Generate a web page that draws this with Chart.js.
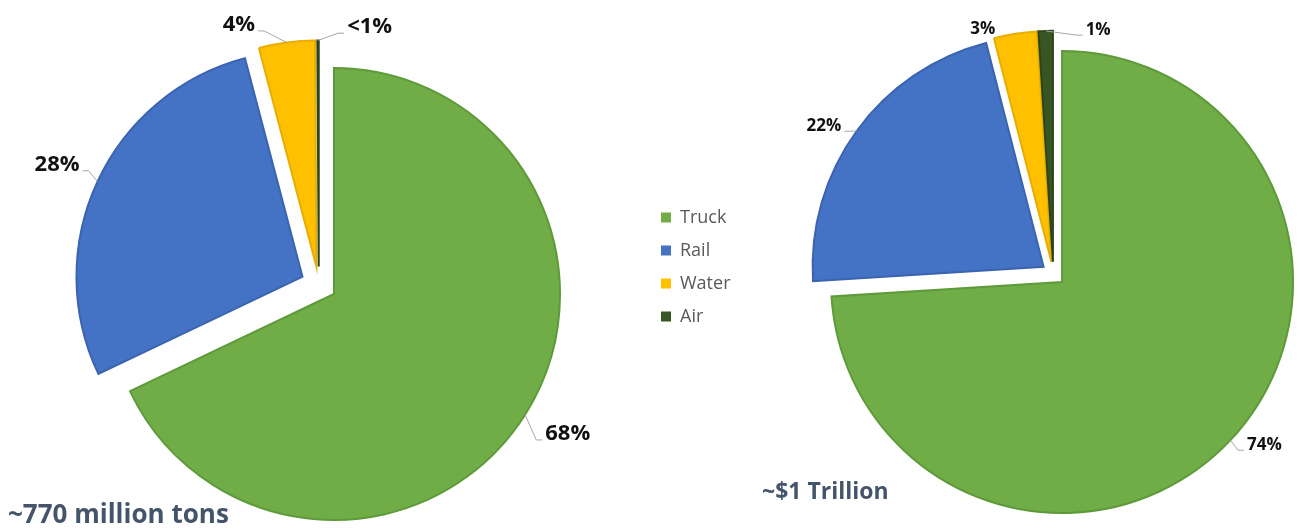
<!DOCTYPE html>
<html lang="en">
<head>
    <meta charset="UTF-8">
    <title>Freight by mode</title>
    <style>
        body { margin: 0; background: #fff; }
        .wrap { position: relative; width: 1300px; height: 529px; overflow: hidden; }
        canvas { position: absolute; }
        #tonsChart { left: 0; top: 0; }
        #valueChart { left: 640px; top: 0; }
        #legendChart { left: 646px; top: 167px; }
    </style>
</head>
<body>
    <div class="wrap">
        <canvas id="tonsChart" width="640" height="529"></canvas>
        <canvas id="valueChart" width="660" height="529"></canvas>
        <canvas id="legendChart" width="260" height="200"></canvas>
    </div>

    <script src="https://cdn.jsdelivr.net/npm/chart.js"></script>

    <script>
        // data
        const modes = ['Truck', 'Rail', 'Water', 'Air'];
        const tonsShare = [68, 28, 4, 0.1];
        const tonsLabels = ['68%', '28%', '4%', '<1%'];
        const valueShare = [74, 22, 3, 1];
        const valueLabels = ['74%', '22%', '3%', '1%'];
        const tonsCaption = '~770 million tons';
        const valueCaption = '~$1 Trillion';

        const modeColors = ['#70AD47', '#4472C4', '#FFC000', '#375623'];
        const modeBorders = ['#5E9A3A', '#3A63B0', '#E8AD00', '#2B4519'];

        Chart.defaults.font.family = "'Open Sans', sans-serif";

        // pull every slice out from the centre (like Excel "point explosion")
        function explodeSlices(distance) {
            return {
                id: 'explodeSlices',
                afterDatasetUpdate(chart, args) {
                    args.meta.data.forEach(arc => {
                        const mid = (arc.startAngle + arc.endAngle) / 2;
                        arc.x += Math.cos(mid) * distance;
                        arc.y += Math.sin(mid) * distance;
                    });
                }
            };
        }

        // percentage labels outside the pie, with grey leader lines
        // place = [angle shift in deg, gap beyond radius, draw leader]
        function sliceLabels(texts, place, fontSize) {
            return {
                id: 'sliceLabels',
                afterDatasetsDraw(chart) {
                    const ctx = chart.ctx;
                    const arcs = chart.getDatasetMeta(0).data;
                    ctx.save();
                    ctx.font = 'bold ' + fontSize + "px 'Open Sans'";
                    const halfCap = fontSize * 0.357;
                    arcs.forEach((arc, i) => {
                        const [shift, gap, leader] = place[i];
                        const r = arc.outerRadius;
                        const mid = (arc.startAngle + arc.endAngle) / 2;
                        const ax = arc.x + Math.cos(mid) * r;
                        const ay = arc.y + Math.sin(mid) * r;
                        const a = mid + shift * Math.PI / 180;
                        const lx = arc.x + Math.cos(a) * (r + gap);
                        const ly = arc.y + Math.sin(a) * (r + gap);
                        const base = ly + halfCap;
                        const w = ctx.measureText(texts[i]).width;
                        if (leader) {
                            const onRight = lx > ax;
                            const side = onRight ? lx - w / 2 - 3 : lx + w / 2 + 3;
                            const elbow = onRight ? side - 6 : side + 6;
                            ctx.strokeStyle = '#A6A6A6';
                            ctx.lineWidth = 1;
                            ctx.beginPath();
                            ctx.moveTo(ax, ay);
                            ctx.lineTo(elbow, base);
                            ctx.lineTo(side, base);
                            ctx.stroke();
                        }
                        ctx.fillStyle = '#111';
                        ctx.textAlign = 'center';
                        ctx.textBaseline = 'alphabetic';
                        ctx.fillText(texts[i], lx, base);
                    });
                    ctx.restore();
                }
            };
        }

        function caption(text, x, y, size) {
            return {
                id: 'caption',
                afterDraw(chart) {
                    const ctx = chart.ctx;
                    ctx.save();
                    ctx.font = 'bold ' + size + "px 'Open Sans'";
                    ctx.fillStyle = '#44546A';
                    ctx.textAlign = 'left';
                    ctx.textBaseline = 'alphabetic';
                    ctx.fillText(text, x, y);
                    ctx.restore();
                }
            };
        }

        function pieConfig(values, radius, padding, plugins) {
            return {
                type: 'pie',
                data: {
                    labels: modes,
                    datasets: [{
                        data: values,
                        backgroundColor: modeColors,
                        borderColor: modeBorders,
                        borderWidth: 2,
                        borderJoinStyle: 'miter',
                        clip: false
                    }]
                },
                options: {
                    responsive: false,
                    animation: false,
                    events: [],
                    radius: radius,
                    layout: { padding: padding },
                    plugins: {
                        legend: { display: false },
                        tooltip: { enabled: false }
                    }
                },
                plugins: plugins
            };
        }

        // Tons
        new Chart(document.getElementById('tonsChart'), pieConfig(
            tonsShare, 226,
            { left: 0, right: 2.4, top: 39.8, bottom: 0 },
            [
                explodeSlices(18),
                sliceLabels(tonsLabels, [[-1.7, 45.5, true], [0, 44.6, true], [-10.1, 29.5, true], [12.1, 20.4, true]], 22),
                caption(tonsCaption, 8, 523, 26)
            ]
        ));

        // Value
        new Chart(document.getElementById('valueChart'), pieConfig(
            valueShare, 231,
            { left: 166.6, right: 0, top: 18.6, bottom: 0 },
            [
                explodeSlices(12),
                sliceLabels(valueLabels, [[-4.5, 28.3, true], [-3.2, 30.3, true], [-7.3, 13.3, false], [12.8, 6.1, true]], 17),
                caption(valueCaption, 122, 499, 23)
            ]
        ));

        // shared legend between the two pies
        new Chart(document.getElementById('legendChart'), {
            type: 'pie',
            data: {
                labels: modes,
                datasets: [{
                    data: valueShare,
                    backgroundColor: modeColors,
                    borderColor: modeColors,
                    borderWidth: 0
                }]
            },
            options: {
                responsive: false,
                animation: false,
                events: [],
                radius: 0,
                plugins: {
                    legend: {
                        position: 'left',
                        labels: {
                            boxWidth: 10,
                            boxHeight: 10,
                            padding: 15,
                            color: '#595959',
                            font: { size: 18 }
                        }
                    },
                    tooltip: { enabled: false }
                }
            }
        });
    </script>
</body>
</html>
